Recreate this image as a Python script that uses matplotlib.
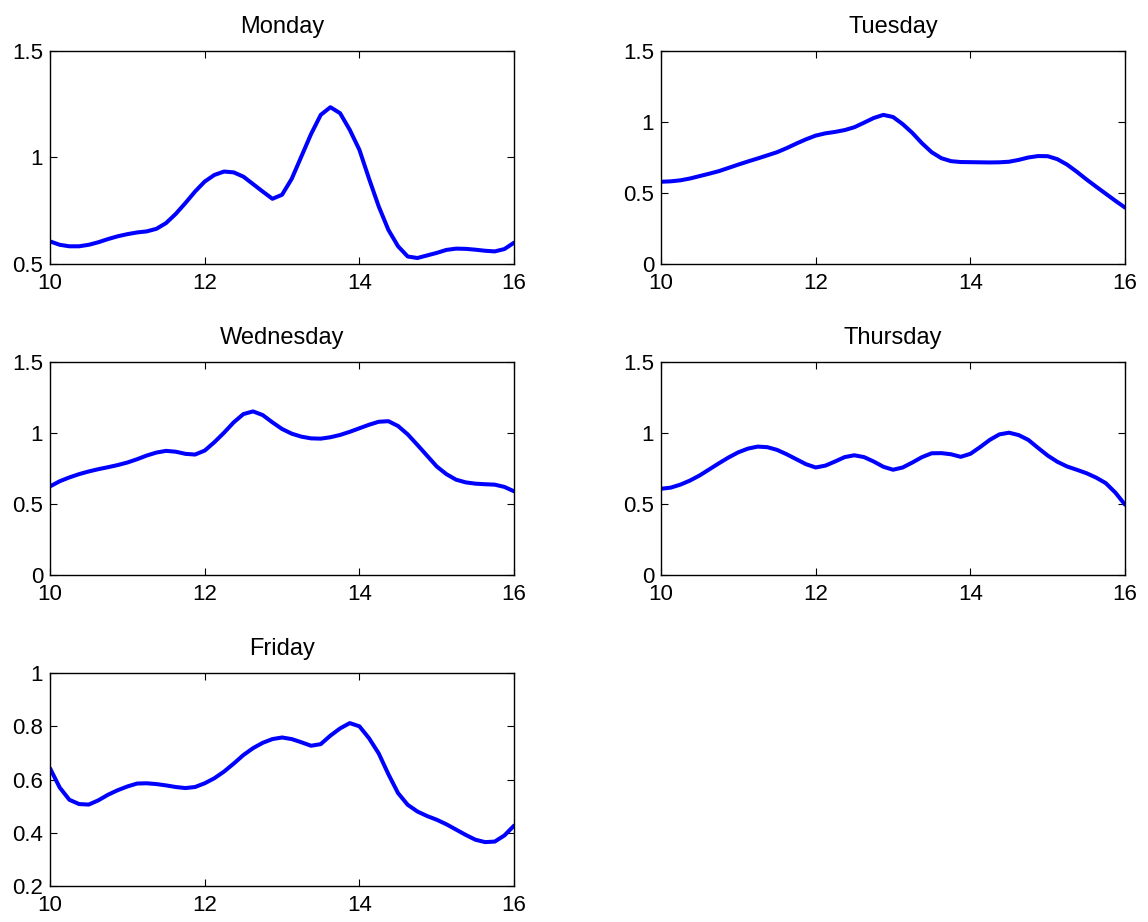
import numpy as np
import matplotlib.pyplot as plt

plt.rcParams['font.family'] = ['Liberation Sans', 'DejaVu Sans']

# hours 10..16 in 1/8 hour steps
hours = np.linspace(10, 16, 49)

monday = [0.606, 0.59, 0.583, 0.583, 0.59, 0.602, 0.617, 0.63, 0.64, 0.648, 0.653, 0.665, 0.692,
          0.735, 0.786, 0.84, 0.887, 0.918, 0.934, 0.93, 0.91, 0.875, 0.84, 0.806, 0.825,
          0.9, 1.005, 1.11, 1.20, 1.236, 1.208, 1.13, 1.036, 0.90, 0.77, 0.66, 0.583,
          0.535, 0.528, 0.54, 0.552, 0.566, 0.572, 0.571, 0.567, 0.562, 0.559, 0.57, 0.60]

tuesday = [0.579, 0.582, 0.589, 0.602, 0.619, 0.636, 0.654, 0.677, 0.70, 0.722, 0.743, 0.765, 0.787,
           0.816, 0.848, 0.878, 0.904, 0.92, 0.93, 0.943, 0.963, 0.995, 1.028, 1.05, 1.035,
           0.985, 0.923, 0.85, 0.787, 0.745, 0.724, 0.718, 0.717, 0.716, 0.715, 0.716, 0.72,
           0.733, 0.75, 0.76, 0.759, 0.738, 0.70, 0.65, 0.596, 0.545, 0.495, 0.445, 0.397]

wednesday = [0.624, 0.66, 0.687, 0.71, 0.729, 0.745, 0.759, 0.774, 0.792, 0.815, 0.841, 0.862, 0.874,
             0.868, 0.853, 0.848, 0.876, 0.935, 1.002, 1.075, 1.133, 1.152, 1.126, 1.075, 1.028,
             0.995, 0.974, 0.962, 0.96, 0.97, 0.986, 1.008, 1.033, 1.058, 1.079, 1.083, 1.049,
             0.99, 0.916, 0.84, 0.764, 0.71, 0.671, 0.652, 0.643, 0.639, 0.636, 0.62, 0.589]

thursday = [0.607, 0.615, 0.636, 0.665, 0.701, 0.744, 0.787, 0.828, 0.864, 0.89, 0.904, 0.90, 0.881,
            0.85, 0.815, 0.78, 0.757, 0.77, 0.799, 0.83, 0.843, 0.83, 0.799, 0.762, 0.741,
            0.757, 0.792, 0.83, 0.857, 0.858, 0.85, 0.832, 0.853, 0.90, 0.951, 0.99, 1.002,
            0.985, 0.951, 0.895, 0.841, 0.797, 0.764, 0.741, 0.717, 0.686, 0.647, 0.58, 0.495]

friday = [0.642, 0.57, 0.524, 0.508, 0.506, 0.522, 0.543, 0.56, 0.574, 0.585, 0.586, 0.583, 0.578,
          0.572, 0.568, 0.572, 0.586, 0.605, 0.63, 0.66, 0.692, 0.718, 0.738, 0.752, 0.758,
          0.752, 0.74, 0.727, 0.733, 0.765, 0.792, 0.812, 0.80, 0.755, 0.698, 0.62, 0.549,
          0.505, 0.48, 0.463, 0.449, 0.432, 0.412, 0.392, 0.374, 0.365, 0.367, 0.39, 0.427]

days = ['Monday', 'Tuesday', 'Wednesday', 'Thursday', 'Friday']
series = [monday, tuesday, wednesday, thursday, friday]
ylims = [(0.5, 1.5), (0, 1.5), (0, 1.5), (0, 1.5), (0.2, 1)]
yticks = [[0.5, 1, 1.5], [0, 0.5, 1, 1.5], [0, 0.5, 1, 1.5], [0, 0.5, 1, 1.5], [0.2, 0.4, 0.6, 0.8, 1]]

fig = plt.figure(figsize=(11.48, 9.22), dpi=100)

# axes boxes in figure fractions (left, bottom, width, height)
boxes = [
    (0.0436, 0.7137, 0.4042, 0.231),
    (0.5758, 0.7137, 0.4042, 0.231),
    (0.0436, 0.3764, 0.4042, 0.231),
    (0.5758, 0.3764, 0.4042, 0.231),
    (0.0436, 0.0390, 0.4042, 0.231),
]

for i, day in enumerate(days):
    ax = fig.add_axes(boxes[i])
    ax.plot(hours, series[i], color='#0000ff', linewidth=2.9, solid_capstyle='round',
            solid_joinstyle='round')
    ax.set_xlim(10, 16)
    ax.set_ylim(*ylims[i])
    ax.set_xticks([10, 12, 14, 16])
    ax.set_xticklabels(['10', '12', '14', '16'])
    ax.set_yticks(yticks[i])
    ax.set_yticklabels([f'{v:g}' for v in yticks[i]])
    ax.tick_params(direction='in', length=5, width=0.8, top=True, right=True, labelsize=16)
    ax.tick_params(axis='y', pad=5)
    ax.tick_params(axis='x', pad=6.5)
    for s in ax.spines.values():
        s.set_linewidth(1.0)
    ax.set_title(day, fontsize=17, pad=13)

plt.savefig('out.png', dpi=100)
